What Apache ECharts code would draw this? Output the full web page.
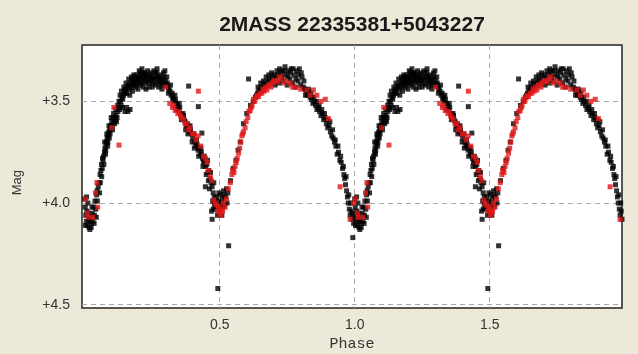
<!DOCTYPE html>
<html>
<head>
<meta charset="utf-8">
<script src="https://cdn.jsdelivr.net/npm/echarts@6/dist/echarts.min.js"></script>
<style>
html,body{margin:0;padding:0;background:#ECE9D8;}
#c{width:638px;height:354px;}
</style>
</head>
<body>
<div id="c"></div>
<script>
var chartTitle = '2MASS 22335381+5043227';
var xName = 'Phase';
var yName = 'Mag';
var xTicks = [0.5, 1.0, 1.5];
var yTicks = [3.5, 4.0, 4.5];

// Observations folded on one cycle: [phase, magnitude]
var blackObs = [
[0.000,3.98],[0.002,4.02],[0.004,4.06],[0.006,4.09],[0.008,4.04],[0.010,4.11],[0.012,4.00],[0.014,4.08],[0.016,4.12],[0.019,4.13],[0.022,4.07],[0.025,4.10],[0.028,4.05],[0.030,4.09],[0.033,4.02],[0.036,4.06],[0.038,3.99],[0.041,4.03],[0.044,3.96],[0.047,3.99],[0.050,3.92],[0.053,3.90],[0.055,3.95],[0.057,3.86],[0.060,3.84],
[0.062,3.81],[0.065,3.83],[0.068,3.79],[0.070,3.77],[0.073,3.75],[0.075,3.73],[0.077,3.76],[0.079,3.71],[0.081,3.70],[0.083,3.68],[0.085,3.72],[0.087,3.67],[0.089,3.65],[0.091,3.68],[0.093,3.64],[0.095,3.62],[0.097,3.63],[0.100,3.60],[0.102,3.62],[0.105,3.58],[0.108,3.60],[0.110,3.58],[0.113,3.59],[0.116,3.57],[0.120,3.58],[0.123,3.55],[0.126,3.53],[0.129,3.54],[0.132,3.50],[0.135,3.52],[0.138,3.48],[0.141,3.49],[0.144,3.47],[0.147,3.45],[0.150,3.46],
[0.152,3.44],[0.155,3.53],[0.158,3.43],[0.160,3.55],[0.162,3.42],[0.165,3.44],[0.168,3.54],[0.170,3.41],[0.172,3.43],[0.175,3.40],[0.178,3.42],[0.180,3.39],[0.183,3.41],[0.185,3.38],[0.188,3.40],[0.190,3.42],[0.193,3.37],[0.196,3.39],[0.198,3.41],[0.200,3.38],[0.203,3.40],[0.206,3.36],[0.208,3.38],[0.210,3.41],[0.213,3.37],[0.216,3.39],[0.218,3.36],[0.220,3.40],[0.223,3.38],[0.226,3.41],[0.228,3.37],[0.231,3.39],[0.234,3.40],[0.237,3.38],[0.240,3.41],[0.243,3.37],[0.246,3.39],[0.249,3.40],[0.252,3.38],[0.255,3.41],[0.258,3.39],[0.261,3.36],[0.264,3.38],[0.267,3.36],[0.270,3.40],[0.273,3.38],[0.276,3.41],[0.279,3.39],[0.282,3.40],[0.285,3.42],[0.288,3.39],[0.291,3.41],[0.294,3.38],[0.297,3.35],[0.300,3.40],[0.303,3.42],[0.306,3.41],[0.309,3.43],
[0.312,3.44],[0.316,3.45],[0.320,3.47],[0.324,3.46],[0.328,3.48],[0.332,3.50],[0.336,3.49],[0.340,3.51],[0.344,3.52],[0.348,3.54],[0.352,3.53],[0.356,3.56],[0.360,3.57],[0.364,3.56],[0.368,3.59],[0.372,3.60],[0.376,3.62],[0.380,3.61],[0.384,3.63],[0.388,3.65],[0.392,3.64],[0.396,3.66],[0.400,3.68],[0.404,3.66],[0.408,3.70],[0.412,3.72],[0.416,3.71],[0.420,3.74],[0.424,3.73],[0.428,3.76],[0.432,3.75],[0.436,3.78],[0.440,3.80],[0.444,3.79],[0.448,3.82],[0.452,3.81],[0.456,3.85],[0.460,3.84],[0.464,3.88],[0.468,3.90],[0.472,3.92],[0.476,3.95],[0.480,3.97],[0.484,3.99],
[0.385,3.425],[0.421,3.526],[0.434,3.656],
[0.470,4.04],[0.472,4.08],[0.476,4.03],[0.480,4.00],[0.486,4.01],[0.490,4.03],[0.493,4.42],[0.495,3.99],[0.498,4.02],[0.500,4.05],[0.503,3.96],[0.506,4.00],[0.510,3.98],[0.514,3.94],[0.518,4.01],[0.522,3.97],[0.527,4.00],[0.533,4.21],[0.530,3.95],
[0.540,3.89],[0.550,3.83],[0.560,3.79],[0.568,3.74],[0.576,3.70],[0.588,3.61],[0.600,3.56],[0.607,3.39],[0.614,3.52],[0.624,3.50],[0.632,3.48],
[0.636,3.47],[0.640,3.46],[0.645,3.45],[0.650,3.44],[0.655,3.43],[0.660,3.44],[0.665,3.42],[0.670,3.41],[0.675,3.42],[0.680,3.40],[0.685,3.39],[0.690,3.41],[0.695,3.38],[0.700,3.40],[0.705,3.42],[0.710,3.39],[0.715,3.37],[0.720,3.41],[0.725,3.36],[0.730,3.38],[0.735,3.40],[0.740,3.35],[0.745,3.37],[0.750,3.42],[0.755,3.35],[0.760,3.39],[0.765,3.34],[0.770,3.41],[0.775,3.37],[0.780,3.43],[0.785,3.35],[0.790,3.40],[0.795,3.34],[0.800,3.42],[0.805,3.38],[0.810,3.43],
[0.815,3.44],[0.820,3.45],[0.825,3.47],[0.830,3.45],[0.835,3.48],[0.840,3.49],[0.845,3.51],[0.850,3.50],[0.855,3.52],[0.860,3.54],[0.865,3.53],[0.870,3.55],[0.875,3.57],[0.880,3.56],[0.885,3.59],[0.890,3.58],[0.895,3.61],[0.900,3.63],[0.905,3.62],[0.910,3.65],[0.915,3.67],[0.920,3.68],[0.925,3.70],[0.930,3.72],[0.935,3.76],[0.940,3.75],[0.945,3.79],[0.950,3.80],[0.955,3.83],[0.960,3.86],[0.963,3.88],[0.966,3.91],[0.970,3.94],[0.973,3.97],[0.976,4.00],[0.980,4.03],[0.983,4.06],[0.987,4.04],[0.990,4.08],[0.993,4.17],[0.996,4.10]
];

var blackObsScatter = [
[0.003,4.11],[0.007,3.97],[0.013,4.05],[0.018,4.09],[0.024,4.12],[0.027,4.02],[0.035,4.10],[0.043,4.07],[0.046,3.94],
[0.058,3.90],[0.063,3.87],[0.066,3.78],[0.071,3.81],[0.074,3.70],[0.078,3.74],[0.082,3.66],[0.086,3.70],[0.090,3.62],[0.094,3.66],[0.098,3.58],[0.103,3.64],[0.107,3.56],[0.111,3.61],[0.115,3.54],[0.118,3.60],[0.122,3.52],[0.127,3.50],[0.131,3.47],[0.136,3.45],[0.140,3.53],[0.145,3.43],[0.149,3.55],
[0.153,3.41],[0.157,3.46],[0.163,3.39],[0.167,3.47],[0.173,3.38],[0.177,3.45],[0.182,3.37],[0.187,3.43],[0.192,3.39],[0.197,3.44],[0.202,3.35],[0.207,3.42],[0.212,3.34],[0.217,3.43],[0.222,3.36],[0.227,3.44],[0.233,3.35],[0.238,3.43],[0.244,3.36],[0.250,3.43],[0.256,3.35],[0.262,3.42],[0.268,3.34],[0.274,3.43],[0.280,3.37],[0.286,3.44],[0.292,3.36],[0.298,3.42],[0.304,3.38],[0.310,3.46],
[0.318,3.42],[0.326,3.49],[0.334,3.47],[0.342,3.54],[0.350,3.51],[0.358,3.59],[0.366,3.57],[0.374,3.64],[0.382,3.66],[0.390,3.62],[0.398,3.70],[0.406,3.73],[0.414,3.69],[0.422,3.77],[0.430,3.73],[0.438,3.82],[0.443,3.77],[0.447,3.92],[0.450,3.86],[0.455,3.79],[0.458,3.89],[0.462,3.93],[0.466,3.85],[0.474,3.99],[0.478,3.90],[0.482,4.02],
[0.488,3.97],[0.492,4.06],[0.497,3.95],[0.502,4.03],[0.508,4.06],[0.512,4.02],[0.516,3.96],[0.525,3.93],
[0.642,3.43],[0.652,3.41],[0.662,3.40],[0.672,3.38],[0.682,3.37],[0.692,3.36],[0.702,3.37],[0.712,3.35],[0.722,3.34],[0.732,3.35],[0.742,3.33],[0.752,3.38],[0.762,3.36],[0.772,3.34],[0.782,3.39],[0.792,3.37],[0.802,3.36],[0.812,3.40],
[0.818,3.47],[0.828,3.44],[0.838,3.46],[0.848,3.48],[0.858,3.50],[0.868,3.52],[0.878,3.54],[0.888,3.56],[0.898,3.59],[0.908,3.60],[0.918,3.64],[0.928,3.69],[0.938,3.72],[0.948,3.77],[0.958,3.82],[0.968,3.87],[0.978,3.96],[0.985,4.00],[0.992,4.05],[0.998,4.07]
];

var redObs = [
[0.002,3.98],[0.010,4.05],[0.013,4.07],[0.030,4.07],[0.040,3.95],[0.045,3.90],[0.048,4.02],[0.100,3.63],[0.108,3.53],[0.127,3.715],
[0.300,3.43],[0.315,3.51],[0.325,3.53],[0.330,3.52],[0.335,3.545],[0.345,3.56],[0.350,3.55],[0.355,3.57],[0.360,3.58],[0.365,3.59],[0.372,3.61],[0.378,3.61],[0.385,3.64],[0.390,3.63],[0.398,3.66],[0.405,3.66],[0.412,3.69],[0.420,3.67],[0.421,3.45],[0.430,3.72],[0.440,3.77],[0.448,3.78],[0.453,3.80],[0.458,3.84],[0.465,3.87],[0.470,3.89],
[0.478,3.985],[0.483,4.00],[0.488,4.01],[0.492,4.04],[0.496,4.02],[0.500,4.04],[0.502,4.06],[0.505,4.05],[0.508,4.03],[0.511,4.04],[0.514,4.00],[0.520,4.02],[0.525,3.98],[0.532,3.93],
[0.539,3.90],[0.545,3.86],[0.548,3.84],[0.553,3.85],[0.557,3.82],[0.561,3.80],[0.565,3.78],[0.570,3.755],[0.574,3.73],[0.578,3.70],[0.582,3.67],[0.585,3.66],[0.588,3.65],[0.594,3.63],[0.598,3.60],[0.604,3.58],[0.608,3.55],[0.613,3.545],[0.617,3.53],[0.620,3.52],[0.625,3.49],[0.630,3.50],[0.635,3.48],[0.640,3.47],[0.644,3.477],[0.650,3.46],[0.656,3.46],[0.660,3.44],[0.665,3.45],[0.670,3.43],[0.675,3.444],[0.680,3.42],[0.685,3.42],[0.690,3.43],[0.693,3.41],[0.700,3.40],[0.705,3.40],[0.712,3.403],[0.720,3.39],[0.725,3.38],[0.736,3.41],[0.745,3.40],[0.760,3.41],[0.770,3.43],
[0.780,3.43],[0.800,3.44],[0.823,3.444],[0.835,3.47],[0.847,3.444],[0.860,3.47],[0.875,3.50],[0.891,3.49],[0.903,3.585],[0.946,3.92],[0.983,4.08],[0.996,4.00]
];

var cycles = [0, 1];

function unfold(obs) {
  var out = [];
  cycles.forEach(function (c) {
    obs.forEach(function (p) { out.push([p[0] + c, p[1]]); });
  });
  return out;
}

var chart = echarts.init(document.getElementById('c'), null, {renderer: 'canvas'});
chart.setOption({
  backgroundColor: '#ECE9D8',
  animation: false,
  title: {
    text: chartTitle,
    left: 347, top: 10, textAlign: 'center',
    textStyle: {fontFamily: 'Liberation Sans', fontWeight: 'bold', fontSize: 21, color: '#1a1a1a'}
  },
  graphic: [{
    type: 'text', left: 11, top: 170, rotation: Math.PI / 2,
    style: {text: yName, fontFamily: 'Liberation Sans', fontSize: 13, fill: '#333'}
  }],
  grid: {
    left: 82, right: 16, top: 45, bottom: 46, outerBoundsMode: 'none', containLabel: false,
    show: true, backgroundColor: '#ffffff', borderColor: '#222222', borderWidth: 1.5
  },
  xAxis: {
    type: 'value', min: -0.01, max: 1.99,
    name: xName, nameLocation: 'middle', nameGap: 27,
    nameTextStyle: {fontFamily: 'Liberation Mono', fontSize: 15, color: '#333'},
    axisLine: {show: false}, axisTick: {show: false, customValues: xTicks},
    axisLabel: {customValues: xTicks, margin: 10, fontFamily: 'Liberation Sans', fontSize: 14, color: '#333',
      formatter: function (v) { return v.toFixed(1); }},
    splitLine: {show: true, lineStyle: {color: '#a8a8a8', type: [5, 4], width: 1}}
  },
  yAxis: {
    type: 'value', inverse: true, min: 3.223, max: 4.516,
    axisLine: {show: false}, axisTick: {show: false, customValues: yTicks},
    axisLabel: {customValues: yTicks, margin: 12, fontFamily: 'Liberation Sans', fontSize: 14, color: '#333',
      formatter: function (v) { return '+' + v.toFixed(1); }},
    splitLine: {show: true, lineStyle: {color: '#a8a8a8', type: [5, 4], width: 1}}
  },
  series: [
    {type: 'scatter', data: unfold(blackObs).concat(unfold(blackObsScatter)), symbol: 'rect', symbolSize: 5,
      itemStyle: {color: '#000000'}, silent: true},
    {type: 'scatter', data: unfold(redObs), symbol: 'rect', symbolSize: 5,
      itemStyle: {color: '#e01818'}, silent: true}
  ]
});
</script>
</body>
</html>
